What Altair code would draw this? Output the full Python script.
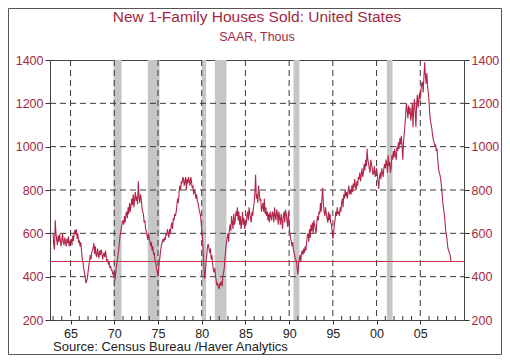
import altair as alt
import pandas as pd

# Monthly new 1-family houses sold, SAAR thousands
sales_1960s = [
    600, 545, 525, 660, 600, 570, 545, 590, 560, 595, 570, 540,   # 1963
    565, 600, 560, 545, 580, 560, 540, 575, 555, 585, 540, 560,   # 1964
    555, 575, 545, 590, 565, 600, 615, 595, 620, 575, 600, 560,   # 1965
    565, 540, 560, 520, 480, 470, 440, 420, 400, 370, 380, 390,   # 1966
    420, 450, 470, 500, 480, 510, 520, 535, 555, 505, 540, 500,   # 1967
    490, 530, 505, 485, 520, 500, 525, 510, 480, 500, 510, 490,   # 1968
    520, 490, 470, 480, 455, 470, 440, 450, 430, 430, 410, 420,   # 1969
]
sales_1970s = [
    395, 388, 420, 450, 470, 500, 520, 560, 590, 610, 630, 650,   # 1970
    660, 640, 680, 650, 690, 700, 670, 720, 690, 740, 700, 730,   # 1971
    760, 730, 780, 720, 760, 790, 750, 770, 735, 840, 770, 740,   # 1972
    780, 760, 720, 700, 690, 650, 660, 620, 610, 590, 570, 600,   # 1973
    580, 560, 540, 560, 520, 540, 500, 510, 470, 460, 440, 420,   # 1974
    400, 440, 470, 500, 530, 550, 560, 575, 560, 580, 570, 600,   # 1975
    590, 620, 600, 580, 620, 600, 630, 650, 620, 670, 660, 690,   # 1976
    680, 700, 730, 760, 740, 790, 820, 800, 840, 830, 860, 850,   # 1977
    820, 840, 860, 800, 850, 830, 860, 840, 820, 860, 840, 810,   # 1978
    820, 780, 800, 790, 760, 780, 750, 740, 720, 700, 690, 660,   # 1979
]
sales_1980s = [
    620, 580, 520, 440, 390, 420, 470, 500, 540, 550, 530, 510,   # 1980
    530, 480, 500, 460, 430, 420, 440, 400, 380, 360, 370, 350,   # 1981
    345, 370, 360, 380, 355, 400, 420, 440, 490, 520, 560, 580,   # 1982
    600, 560, 620, 640, 610, 680, 650, 620, 690, 640, 660, 700,   # 1983
    680, 720, 660, 700, 640, 680, 620, 650, 700, 640, 670, 620,   # 1984
    660, 640, 680, 700, 660, 720, 690, 670, 650, 700, 680, 720,   # 1985
    740, 790, 870, 760, 780, 740, 820, 790, 750, 760, 700, 720,   # 1986
    740, 700, 760, 690, 720, 680, 700, 660, 690, 650, 700, 680,   # 1987
    660, 700, 690, 650, 720, 680, 660, 710, 690, 640, 700, 670,   # 1988
    640, 690, 660, 620, 680, 700, 650, 710, 690, 660, 630, 700,   # 1989
]
sales_1990s = [
    640, 600, 580, 560, 540, 560, 520, 510, 490, 480, 470, 440,   # 1990
    410, 460, 480, 500, 470, 510, 520, 500, 530, 510, 540, 520,   # 1991
    560, 590, 600, 560, 620, 580, 640, 610, 650, 600, 660, 640,   # 1992
    620, 600, 650, 680, 660, 700, 690, 740, 700, 760, 810, 740,   # 1993
    700, 680, 720, 690, 670, 650, 700, 660, 690, 650, 640, 610,   # 1994
    575, 600, 640, 660, 700, 680, 720, 690, 700, 680, 720, 700,   # 1995
    740, 760, 720, 780, 760, 800, 770, 790, 760, 800, 820, 780,   # 1996
    800, 780, 820, 790, 830, 810, 850, 820, 800, 840, 820, 860,   # 1997
    850, 880, 840, 870, 900, 860, 880, 920, 890, 940, 910, 990,   # 1998
    940, 920, 900, 880, 940, 920, 900, 870, 880, 910, 860, 880,   # 1999
]
sales_2000s = [
    900, 870, 840, 805, 860, 880, 850, 900, 880, 860, 900, 920,           # 2000
    900, 940, 920, 880, 960, 910, 930, 880, 900, 960, 940, 980,           # 2001
    950, 990, 960, 940, 1000, 980, 1020, 990, 1040, 1010, 1050, 1000,     # 2002
    940, 1020, 1060, 1100, 1150, 1200, 1170, 1130, 1190, 1150, 1180, 1120,  # 2003
    1150, 1200, 1090, 1180, 1220, 1160, 1090, 1200, 1240, 1180, 1210, 1250,  # 2004
    1220, 1260, 1290, 1300, 1250, 1320, 1389, 1330, 1290, 1340, 1280, 1250,  # 2005
    1210, 1150, 1120, 1100, 1080, 1050, 1030, 1020, 1000, 1010, 980, 990,    # 2006
    940, 900, 880, 870, 850, 820, 780, 740, 710, 690, 650, 610,           # 2007
    590, 560, 530, 520, 510, 500, 470,                                    # 2008
]
first_year = 1963
latest_level = 470

rec_start = [1969.92, 1973.83, 1980.0, 1981.5, 1990.5, 2001.17]
rec_end = [1970.83, 1975.17, 1980.5, 1982.83, 1991.17, 2001.83]

x_major = [1965, 1970, 1975, 1980, 1985, 1990, 1995, 2000, 2005]
y_ticks = [200, 400, 600, 800, 1000, 1200, 1400]
y_grid = [400, 600, 800, 1000, 1200]
x_minor = [y for y in range(1963, 2010) if y % 5 != 0]

title_text = "New 1-Family Houses Sold: United States"
subtitle_text = "SAAR, Thous"
source_text = "Source:  Census Bureau /Haver Analytics"

sales = sales_1960s + sales_1970s + sales_1980s + sales_1990s + sales_2000s
df = pd.DataFrame({"t": [first_year + i / 12 for i in range(len(sales))], "v": sales})

RED = "#b2264a"
HLINE = "#c8324f"
TXT_RED = "#a3283f"
GRID = "#3a3a3a"
FONT = "Liberation Sans"
W, H = 414, 260

xs = alt.Scale(domain=[1962.65, 2010], nice=False, zero=False)
ys = alt.Scale(domain=[200, 1400], nice=False, zero=False)

x_axis = alt.Axis(
    values=x_major, format="d", labelExpr="slice(datum.label, 2)", title=None,
    grid=False, tickSize=4, tickColor="#333", domainColor="#444",
    labelColor="#222", labelFontSize=12.5, labelPadding=3, labelFont=FONT)


def y_axis(orient):
    return alt.Axis(
        values=y_ticks, orient=orient, format="d", title=None, grid=False, tickSize=5,
        tickColor="#333", domainColor="#444", labelColor=TXT_RED, labelFontSize=12.5,
        labelPadding=2, labelFont=FONT)


rec = alt.Chart(pd.DataFrame({"s": rec_start, "e": rec_end})).mark_rect(color="#c6c6c6").encode(
    x=alt.X("s:Q", scale=xs, axis=x_axis), x2="e:Q", y=alt.value(0), y2=alt.value(H)
)
vgrid = alt.Chart(pd.DataFrame({"s": x_major})).mark_rule(
    color=GRID, strokeDash=[6, 4], strokeWidth=1
).encode(x=alt.X("s:Q", scale=xs, axis=x_axis), y=alt.value(0), y2=alt.value(H))
hgrid = alt.Chart(pd.DataFrame({"g": y_grid})).mark_rule(
    color=GRID, strokeDash=[6, 4], strokeWidth=1
).encode(y=alt.Y("g:Q", scale=ys, axis=None), x=alt.value(0), x2=alt.value(W))
minor = alt.Chart(pd.DataFrame({"s": x_minor})).mark_rule(color="#333", strokeWidth=1).encode(
    x=alt.X("s:Q", scale=xs, axis=x_axis), y=alt.value(H), y2=alt.value(H - 4)
)
hline = alt.Chart(pd.DataFrame({"h": [latest_level]})).mark_rule(strokeWidth=1.2).encode(
    y=alt.Y("h:Q", scale=ys, axis=None), x=alt.value(0), x2=alt.value(W),
    color=alt.value(HLINE),
)
line = alt.Chart(df).mark_line(strokeWidth=1.1).encode(
    x=alt.X("t:Q", scale=xs, axis=x_axis),
    y=alt.Y("v:Q", scale=ys, axis=y_axis("left")),
    color=alt.value(RED),
)
right = alt.Chart(df).mark_line(opacity=0).encode(
    x=alt.X("t:Q", scale=xs, axis=x_axis),
    y=alt.Y("v:Q", scale=ys, axis=y_axis("right")),
)
ttl = alt.Chart(pd.DataFrame({"s": [title_text]})).mark_text(
    align="center", baseline="alphabetic", fontSize=15.5, color=TXT_RED, font=FONT
).encode(text="s:N", x=alt.value(W / 2), y=alt.value(-38))
sub = alt.Chart(pd.DataFrame({"s": [subtitle_text]})).mark_text(
    align="center", baseline="alphabetic", fontSize=12.5, color=TXT_RED, font=FONT
).encode(text="s:N", x=alt.value(W / 2), y=alt.value(-19.5))
src = alt.Chart(pd.DataFrame({"s": [source_text]})).mark_text(
    align="left", baseline="alphabetic", fontSize=13, color="#222", font=FONT
).encode(text="s:N", x=alt.value(3), y=alt.value(291))
frame = alt.Chart(pd.DataFrame({"a": [0]})).mark_rect(
    filled=False, stroke="#555", strokeWidth=1
).encode(x=alt.value(-41.5), x2=alt.value(451.5), y=alt.value(-51.5), y2=alt.value(294.5))

chart = alt.layer(rec, vgrid, hgrid, minor, hline, line, right, ttl, sub, src, frame).resolve_scale(
    y="independent"
).properties(
    width=W, height=H,
    autosize=alt.AutoSizeParams(type="none"),
    padding={"left": 42, "top": 52, "right": 38, "bottom": 35},
).configure_view(stroke="#444", strokeWidth=1)

chart.save("out.html", embed_options={"renderer": "svg", "actions": False})
